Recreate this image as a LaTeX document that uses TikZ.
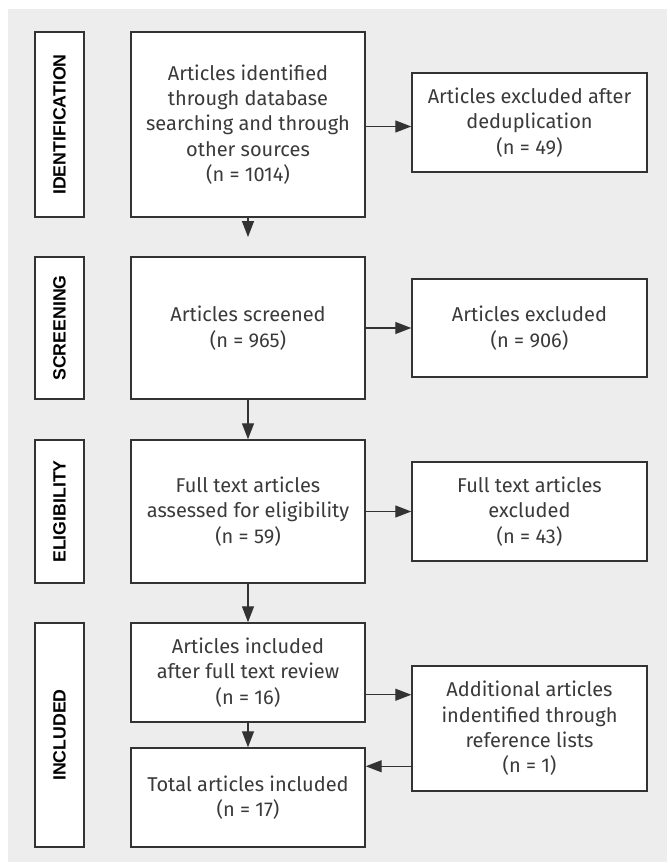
\documentclass[tikz,border=0pt]{standalone}
\usepackage{fontspec}
\setmainfont{Fira Sans}
\newfontfamily\labelfont{Liberation Sans}
\usetikzlibrary{arrows.meta}
\definecolor{panelgray}{HTML}{EDEDED}
\definecolor{boxline}{HTML}{333333}
\definecolor{boxtext}{HTML}{3A3A3A}
\tikzset{
  flowbox/.style={draw=boxline, fill=white, line width=1.1pt, inner sep=0pt,
    align=center, text=boxtext, font=\fontsize{15}{19}\selectfont},
  stagebox/.style={draw=boxline, fill=white, line width=1.1pt, inner sep=0pt,
    rotate=90, minimum height=36.75pt, text=black,
    font=\labelfont\bfseries\fontsize{13.3}{15}\selectfont},
  flowarrow/.style={draw=boxline, line width=1pt, -{Triangle[length=12pt,width=9pt]}}
}

\begin{document}
\begin{tikzpicture}[x=0.75pt, y=-0.75pt]
		%%%%% START %%%%%
		\useasboundingbox (0, 0) rectangle (669, 863);
		\fill[panelgray] (8, 9) rectangle (667, 862);
		
		% stage labels
		\node[stagebox, minimum width=138.75pt] (labID) at (59.5, 124.5) {IDENTIFICATION};
		\node[stagebox, minimum width=106.5pt] (labSC) at (59.5, 328) {SCREENING};
		\node[stagebox, minimum width=107.25pt] (labEL) at (59.5, 511.5) {ELIGIBILITY};
		\node[stagebox, minimum width=168pt] (labIN) at (59.5, 735) {INCLUDED};
		
		% main column
		\node[flowbox, minimum width=175.5pt, minimum height=138.75pt] (ident) at (248, 124.5)
			{Articles identified\\through database\\searching and through\\other sources\\(n = 1014)};
		\node[flowbox, minimum width=175.5pt, minimum height=106.5pt] (screen) at (248, 328)
			{Articles screened\\(n = 965)};
		\node[flowbox, minimum width=175.5pt, minimum height=107.25pt] (elig) at (248, 511.5)
			{Full text articles\\assessed for eligibility\\(n = 59)};
		\node[flowbox, minimum width=175.5pt, minimum height=74.25pt] (incl) at (248, 672.5)
			{Articles included\\after full text review\\(n = 16)};
		\node[flowbox, minimum width=175.5pt, minimum height=74.25pt] (total) at (248, 797.5)
			{Total articles included\\(n = 17)};
		
		% side column
		\node[flowbox, minimum width=176.25pt, minimum height=74.25pt] (dedup) at (529.5, 122.5)
			{Articles excluded after\\deduplication\\(n = 49)};
		\node[flowbox, minimum width=176.25pt, minimum height=73.5pt] (excl) at (529.5, 328)
			{Articles excluded\\(n = 906)};
		\node[flowbox, minimum width=176.25pt, minimum height=74.25pt] (ftexcl) at (529.5, 511.5)
			{Full text articles\\excluded\\(n = 43)};
		\node[flowbox, minimum width=176.25pt, minimum height=93.75pt] (addl) at (529.5, 728.5)
			{Additional articles\\indentified through\\reference lists\\(n = 1)};
		
		% connectors
		\coordinate (identend) at (248, 237);
		\draw[flowarrow] (ident.south) -- (identend);
		\draw[flowarrow] ([yshift=-1.5pt]ident.east) -- ([yshift=-1.5pt]ident.east -| dedup.west);
		\draw[flowarrow] (screen.east) -- (excl.west);
		\draw[flowarrow] (screen.south) -- (elig.north);
		\draw[flowarrow] (elig.east) -- (ftexcl.west);
		\draw[flowarrow] (elig.south) -- (incl.north);
		\draw[flowarrow] (incl.south) -- (total.north);
		
		\coordinate (inclout) at ([yshift=21pt]incl.south east);
		\draw[flowarrow] (inclout) -- (inclout -| addl.west);
		\coordinate (totalin) at ([yshift=-14.25pt]total.north east);
		\draw[flowarrow] (totalin -| addl.west) -- (totalin);
		
		%%%%% END %%%%%
	\end{tikzpicture}
\end{document}
